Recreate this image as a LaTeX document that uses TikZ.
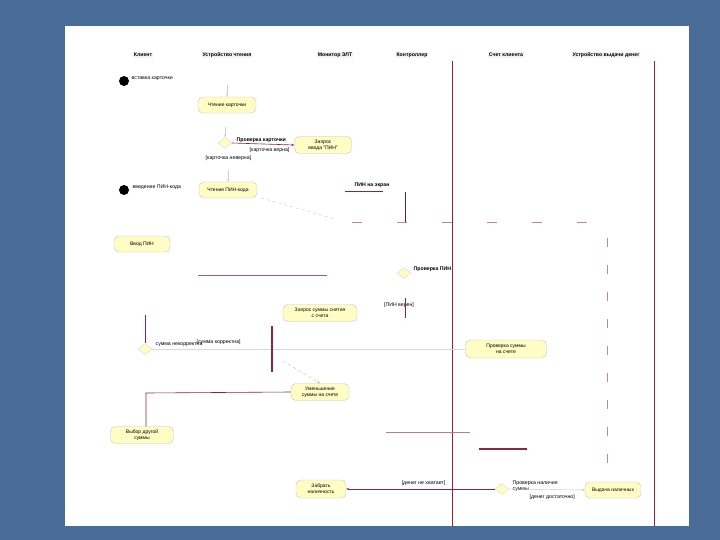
\documentclass[tikz,border=0pt]{standalone}
\usepackage{fontspec}
\setmainfont{Liberation Sans}
\usetikzlibrary{shapes.geometric,arrows.meta}
\definecolor{bg}{HTML}{4A6D98}
\definecolor{lanec}{HTML}{8E2346}
\definecolor{actf}{HTML}{FFFCC4}
\begin{document}
\begin{tikzpicture}[x=1pt,y=-1pt,
  hdr/.style={font=\fontsize{5.2}{6}\selectfont\bfseries, fill=gray!10, inner sep=1pt},
  lbl/.style={font=\fontsize{5.2}{5.8}\selectfont, inner sep=0.5pt, align=center},
  act/.style={draw=gray!45, fill=actf, rounded corners=5pt, font=\fontsize{5}{5.8}\selectfont, align=center, minimum height=16pt, inner sep=1pt},
  init/.style={circle, fill=black, minimum size=10pt, inner sep=0pt},
  dec/.style={diamond, fill=actf, draw=gray!30, minimum width=14pt, minimum height=11pt, inner sep=0pt, aspect=1.6},
  flow/.style={draw=lanec, line width=0.6pt},
  faint/.style={draw=gray!40, line width=0.4pt, -{Stealth[length=3pt]}},
  bar/.style={draw=lanec, line width=2.6pt},
  pdash/.style={draw=lanec!55, line width=0.8pt, dash pattern=on 10pt off 35pt}]
\useasboundingbox (0,0) rectangle (720,540);
\fill[bg] (0,0) rectangle (720,540);
\fill[white] (65,26) rectangle (689,526);
% headers
\node[hdr] (h1) at (143,55) {Клиент};
\node[hdr] (h2) at (227,55) {Устройство чтения};
\node[hdr] (h3) at (335,55) {Монитор ЭЛТ};
\node[hdr] (h4) at (412,55) {Контроллер};
\node[hdr] (h5) at (506,55) {Счет клиента};
\node[hdr] (h6) at (606,55) {Устройство выдачи денег};
\coordinate (l5t) at (452,61); \coordinate (l5b) at (452,526);
\coordinate (l6t) at (654,61); \coordinate (l6b) at (654,526);
\draw[flow] (l5t) -- (l5b);
\draw[flow] (l6t) -- (l6b);
% start 1
\node[init] (i1) at (124,81) {};
\node[lbl, anchor=west] (t1) at (131,79) {вставка карточки};
\node[act, minimum width=58pt] (a1) at (227,105) {Чтение карточки};
\draw[faint] (a1.north) ++(0,-12) coordinate (a1in) -- (a1.north);
\node[dec] (d1) at (225,143) {};
\draw[faint] (d1.north) ++(0,-10) coordinate (d1in) -- (d1.north);
\node[lbl, font=\fontsize{5.2}{5.8}\selectfont\bfseries, anchor=west] (t2) at (236,140) {Проверка карточки};
\node[act, minimum width=57pt, minimum height=17pt] (a2) at (323,145) {Запрос\\ввода "ПИН"};
\draw[flow, -{Stealth[length=3pt]}] (d1.east) -- (a2.west);
\node[lbl, anchor=west] (g1) at (249,150) {[карточка верна]};
\node[lbl, anchor=west] (g2) at (205,158) {[карточка неверна]};
% start 2
\node[init] (i2) at (124,190) {};
\node[lbl, anchor=west] (t3) at (132,187) {введение ПИН-кода};
\node[act, minimum width=58pt] (a3) at (228,190) {Чтение ПИН-кода};
\draw[faint] (a3.north) ++(0,-12) coordinate (a3in) -- (a3.north);
\node[lbl, font=\fontsize{5.2}{5.8}\selectfont\bfseries] (t4) at (372,185) {ПИН на экран};
\coordinate (p1) at (345,191); \coordinate (p2) at (383,191);
\draw[flow] (p1) -- (p2);
\coordinate (v1) at (405,192); \coordinate (v2) at (405,222);
\draw[flow, draw=lanec!80!black, line width=0.5pt] (v1) -- (v2);
\draw[draw=gray!45, dashed, line width=0.4pt] (a3.east) ++(4,8) coordinate (dd1) -- (335,219) coordinate (dd2);
\coordinate (hd1) at (352,222); \coordinate (hd2) at (600,222);
\draw[pdash] (hd1) -- (hd2);
\coordinate (vd1) at (607,238); \coordinate (vd2) at (607,470);
\draw[pdash, dash pattern=on 9pt off 18pt] (vd1) -- (vd2);
% enter PIN
\node[act, minimum width=56pt] (a4) at (142,244) {Ввод ПИН};
\coordinate (hl1) at (198,275); \coordinate (hl2) at (327,275);
\draw[flow, draw=lanec!75] (hl1) -- (hl2);
\node[dec] (d2) at (404,273) {};
\node[lbl, font=\fontsize{5.2}{5.8}\selectfont\bfseries, anchor=west] (t5) at (413,269) {Проверка ПИН};
\node[lbl] (g3) at (399,305) {[ПИН верен]};
\coordinate (s1) at (405,298); \coordinate (s2) at (405,318);
\draw[flow, line width=0.4pt] (s1) -- (s2);
\node[act, minimum width=74pt, minimum height=17pt] (a5) at (320,313) {Запрос суммы снятия\\с счета};
% amount decision
\node[dec] (d3) at (145,349) {};
\coordinate (c1) at (145,315);
\draw[flow] (c1) -- (d3.north);
\node[lbl, anchor=west] (g4) at (155,345) {сумма некорректна};
\node[lbl, anchor=west] (g5) at (196,342) {[сумма корректна]};
\node[act, minimum width=81pt, minimum height=18pt] (a6) at (506,349) {Проверка суммы\\на счете};
\draw[draw=gray!30, line width=0.4pt] (d3.east) -- (a6.west);
\coordinate (fb1) at (272,326); \coordinate (fb2) at (272,372);
\draw[bar] (fb1) -- (fb2);
\node[act, minimum width=58pt, minimum height=17pt] (a7) at (320,392) {Уменьшение\\суммы на счете};
\draw[draw=gray!50, dashed, line width=0.4pt, -{Stealth[length=3pt]}] (283,361) coordinate (fo) -- (a7.north);
\coordinate (k1) at (146,393);
\node[act, minimum width=63pt, minimum height=17pt] (a8) at (142,435) {Выбор другой\\суммы};
\draw[flow] (a7.west) -- (k1) -- (a8.north -| k1);
% join
\coordinate (jl1) at (386,432); \coordinate (jl2) at (470,432);
\draw[flow, draw=lanec!60, line width=0.4pt] (jl1) -- (jl2);
\coordinate (jb1) at (479,449); \coordinate (jb2) at (527,449);
\draw[bar] (jb1) -- (jb2);
% bottom
\node[act, minimum width=50pt, minimum height=18pt] (a9) at (321,489) {Забрать\\наличность};
\node[dec] (d4) at (502,489) {};
\node[lbl, anchor=east] (g6) at (446,483) {[денег не хватает]};
\draw[flow, -{Stealth[length=3pt]}] (d4.west) -- (a9.east);
\node[lbl, anchor=west, align=left] (t6) at (512,486) {Проверка наличия\\суммы};
\node[act, minimum width=56pt, minimum height=16pt] (a10) at (613,490) {Выдача наличных};
\draw[draw=gray!45, line width=0.4pt, -{Stealth[length=3pt]}] (d4.east) -- (a10.west);
\node[lbl, anchor=west] (g7) at (529,497) {[денег достаточно]};
\end{tikzpicture}
\end{document}
